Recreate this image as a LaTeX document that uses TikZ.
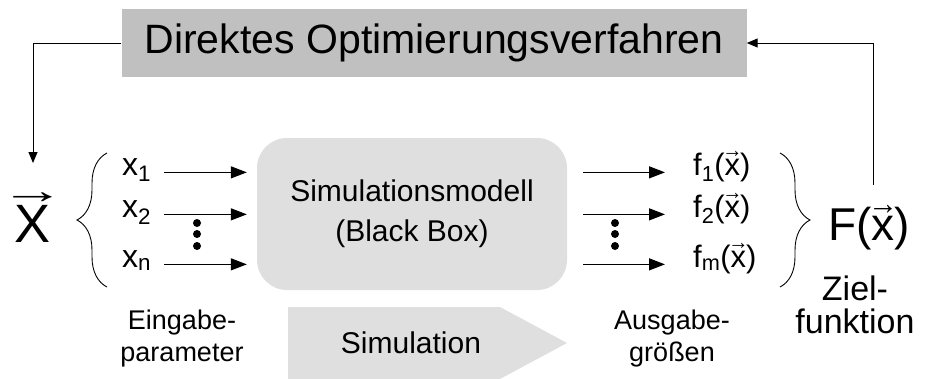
\documentclass[tikz,border=0pt]{standalone}
\usepackage{fontspec}
\setmainfont{Liberation Sans}
\usepackage{tikz}
\usetikzlibrary{arrows.meta, decorations.pathreplacing}

\definecolor{optgray}{RGB}{192,192,192}
\definecolor{simgray}{RGB}{223,223,223}
\newcommand{\fsize}[2]{\fontsize{#1}{#2}\selectfont}
% Vektorpfeil ueber einem Buchstaben
\newcommand{\vx}[2][0.65]{\vbox{\offinterlineskip\halign{\hfil##\hfil\cr\makebox[0pt]{\scalebox{#1}[0.7]{→}}\cr\noalign{\kern1pt}#2\cr}}}

\begin{document}
\begin{tikzpicture}[x=1pt,y=-1pt,
  flow/.style={line width=1.3pt,-{Triangle[length=16pt,width=12pt]}},
  feed/.style={line width=1pt,-{Triangle[length=11pt,width=9pt]}},
  curly/.style={decorate,decoration={brace,amplitude=30pt},line width=0.9pt},
  var/.style={anchor=base west,inner sep=0pt,font=\fsize{32}{38}},
  lbl/.style={align=center,inner sep=0pt,font=\fsize{27}{32}}]
\useasboundingbox (0,0) rectangle (933,378);
% Optimierer oben
\node (opt) [fill=optgray, minimum width=625pt, minimum height=68pt, font=\fsize{41}{48}] at (434,43) {Direktes Optimierungsverfahren};
% Black Box
\node (sim) [fill=simgray, rounded corners=30pt, minimum width=310pt, minimum height=152pt, align=center, font=\fsize{30}{40}] at (412,214) {Simulationsmodell\\(Black Box)};
% Eingangsgroessen
\node (xvec) [anchor=base, inner sep=0pt, font=\fsize{54}{60}] at (33,242) {\vx[1.2]{X}};
\node (x1) [var] at (122,175) {x\textsubscript{1}};
\node (x2) [var] at (122,217) {x\textsubscript{2}};
\node (xn) [var] at (122,267) {x\textsubscript{n}};
\draw[curly] (107,287) -- (107,153);
\foreach \v in {x1,x2,xn}
  \draw[flow, shorten <=13pt, shorten >=10pt] (\v.mid east) -- (\v.mid east -| sim.west);
% Ausgangsgroessen
\node (f1) [var, font=\fsize{31}{36}] at (693,175) {f\textsubscript{1}(\vx{x})};
\node (f2) [var, font=\fsize{31}{36}] at (693,217) {f\textsubscript{2}(\vx{x})};
\node (fm) [var, font=\fsize{31}{36}] at (693,267) {f\textsubscript{m}(\vx{x})};
\foreach \v in {f1,f2,fm}
  \draw[flow, shorten <=16pt, shorten >=28pt] (sim.east |- \v.mid west) -- (\v.mid west);
\draw[curly] (780,153) -- (780,287);
\node (F) [anchor=base, inner sep=0pt, font=\fsize{46}{54}] at (869,240) {F(\vx{x})};
% Punkte
\foreach \y in {223,234,246} {
  \fill (197,\y) circle (4pt);
  \fill (615,\y) circle (4pt);
}
% Rueckkopplung
\coordinate (xin) at (33,163);
\coordinate (fout) at (873,185);
\draw[feed] (opt.west) -| (xin);
\draw[feed] (fout) |- (opt.east);
% Simulationspfeil
\fill[simgray] (288,307) -- (500,307) -- (567,343) -- (500,379) -- (288,379) -- cycle;
\node (simlbl) [font=\fsize{30}{36}] at (411,343) {Simulation};
% Beschriftungen
\node (ein) [lbl] at (182,339) {Eingabe-\\parameter};
\node (aus) [lbl] at (672,339) {Ausgabe-\\größen};
\node (ziel) [lbl, font=\fsize{34}{33}] at (855,305) {Ziel-\\funktion};
\end{tikzpicture}
\end{document}
